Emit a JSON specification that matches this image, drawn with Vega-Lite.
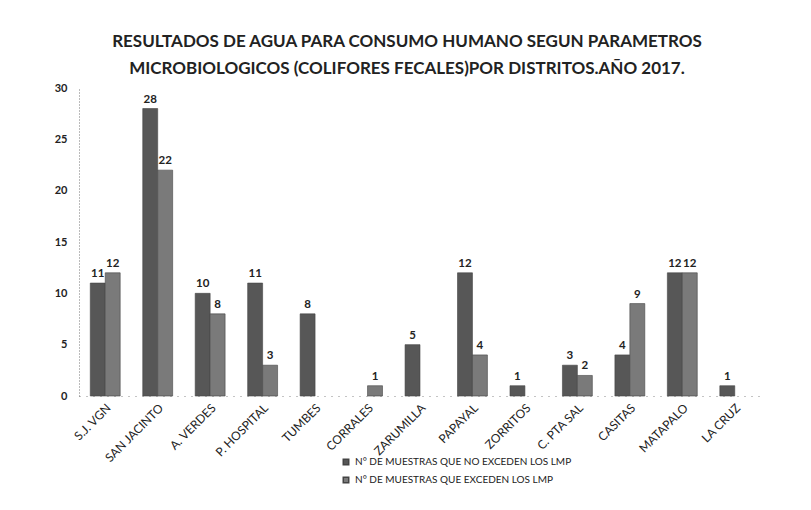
{
  "$schema": "https://vega.github.io/schema/vega-lite/v6.json",
  "autosize": "none",
  "width": 682,
  "height": 308,
  "padding": {"left": 79, "top": 88, "right": 50, "bottom": 114},
  "background": "white",
  "title": {
    "text": ["RESULTADOS DE AGUA PARA CONSUMO HUMANO SEGUN PARAMETROS", "MICROBIOLOGICOS (COLIFORES FECALES)POR DISTRITOS.AÑO 2017."],
    "font": "Lato",
    "fontSize": 17,
    "fontWeight": "bold",
    "color": "#222",
    "lineHeight": 27,
    "anchor": "middle",
    "dx": -13,
    "offset": 4
  },
  "data": {
    "values": [
      {"distrito": "S.J. VGN", "serie": "N° DE MUESTRAS QUE NO EXCEDEN LOS LMP", "valor": 11},
      {"distrito": "S.J. VGN", "serie": "N° DE MUESTRAS QUE EXCEDEN LOS LMP", "valor": 12},
      {"distrito": "SAN JACINTO", "serie": "N° DE MUESTRAS QUE NO EXCEDEN LOS LMP", "valor": 28},
      {"distrito": "SAN JACINTO", "serie": "N° DE MUESTRAS QUE EXCEDEN LOS LMP", "valor": 22},
      {"distrito": "A. VERDES", "serie": "N° DE MUESTRAS QUE NO EXCEDEN LOS LMP", "valor": 10},
      {"distrito": "A. VERDES", "serie": "N° DE MUESTRAS QUE EXCEDEN LOS LMP", "valor": 8},
      {"distrito": "P. HOSPITAL", "serie": "N° DE MUESTRAS QUE NO EXCEDEN LOS LMP", "valor": 11},
      {"distrito": "P. HOSPITAL", "serie": "N° DE MUESTRAS QUE EXCEDEN LOS LMP", "valor": 3},
      {"distrito": "TUMBES", "serie": "N° DE MUESTRAS QUE NO EXCEDEN LOS LMP", "valor": 8},
      {"distrito": "CORRALES", "serie": "N° DE MUESTRAS QUE EXCEDEN LOS LMP", "valor": 1},
      {"distrito": "ZARUMILLA", "serie": "N° DE MUESTRAS QUE NO EXCEDEN LOS LMP", "valor": 5},
      {"distrito": "PAPAYAL", "serie": "N° DE MUESTRAS QUE NO EXCEDEN LOS LMP", "valor": 12},
      {"distrito": "PAPAYAL", "serie": "N° DE MUESTRAS QUE EXCEDEN LOS LMP", "valor": 4},
      {"distrito": "ZORRITOS", "serie": "N° DE MUESTRAS QUE NO EXCEDEN LOS LMP", "valor": 1},
      {"distrito": "C. PTA SAL", "serie": "N° DE MUESTRAS QUE NO EXCEDEN LOS LMP", "valor": 3},
      {"distrito": "C. PTA SAL", "serie": "N° DE MUESTRAS QUE EXCEDEN LOS LMP", "valor": 2},
      {"distrito": "CASITAS", "serie": "N° DE MUESTRAS QUE NO EXCEDEN LOS LMP", "valor": 4},
      {"distrito": "CASITAS", "serie": "N° DE MUESTRAS QUE EXCEDEN LOS LMP", "valor": 9},
      {"distrito": "MATAPALO", "serie": "N° DE MUESTRAS QUE NO EXCEDEN LOS LMP", "valor": 12},
      {"distrito": "MATAPALO", "serie": "N° DE MUESTRAS QUE EXCEDEN LOS LMP", "valor": 12},
      {"distrito": "LA CRUZ", "serie": "N° DE MUESTRAS QUE NO EXCEDEN LOS LMP", "valor": 1}
    ]
  },
  "encoding": {
    "x": {
      "field": "distrito",
      "type": "nominal",
      "sort": null,
      "scale": {"domain": ["S.J. VGN", "SAN JACINTO", "A. VERDES", "P. HOSPITAL", "TUMBES", "CORRALES", "ZARUMILLA", "PAPAYAL", "ZORRITOS", "C. PTA SAL", "CASITAS", "MATAPALO", "LA CRUZ"], "paddingInner": 0.43, "paddingOuter": 0.215},
      "axis": {
        "title": null,
        "labelAngle": -45,
        "labelFont": "Lato",
        "labelFontSize": 12,
        "labelColor": "#222",
        "labelPadding": 6,
        "ticks": false,
        "domainColor": "#888",
        "domainDash": [1, 6]
      }
    },
    "xOffset": {
      "field": "serie",
      "type": "nominal",
      "scale": {"domain": ["N° DE MUESTRAS QUE NO EXCEDEN LOS LMP", "N° DE MUESTRAS QUE EXCEDEN LOS LMP"]}
    },
    "y": {
      "field": "valor",
      "type": "quantitative",
      "scale": {"domain": [0, 30]},
      "axis": {
        "title": null,
        "values": [0, 5, 10, 15, 20, 25, 30],
        "grid": false,
        "ticks": false,
        "labelFont": "Lato",
        "labelFontSize": 11,
        "labelFontWeight": "bold",
        "labelColor": "#222",
        "labelPadding": 12,
        "domainColor": "#777",
        "domainDash": [1, 2]
      }
    }
  },
  "layer": [
    {
      "mark": {"type": "bar", "stroke": "#444", "strokeWidth": 0.6},
      "encoding": {
        "color": {
          "field": "serie",
          "type": "nominal",
          "scale": {"domain": ["N° DE MUESTRAS QUE NO EXCEDEN LOS LMP", "N° DE MUESTRAS QUE EXCEDEN LOS LMP"], "range": ["#575757", "#7a7a7a"]},
          "legend": {
            "title": null,
            "orient": "none",
            "legendX": 262,
            "legendY": 369,
            "direction": "vertical",
            "symbolType": "square",
            "symbolSize": 30,
            "labelFont": "Lato",
            "labelFontSize": 10,
            "labelColor": "#222",
            "labelLimit": 400,
            "rowPadding": 6
          }
        }
      }
    },
    {
      "mark": {"type": "text", "baseline": "bottom", "dy": -4, "font": "Lato", "fontSize": 11.5, "fontWeight": "bold", "color": "#222"},
      "encoding": {"text": {"field": "valor", "type": "quantitative"}}
    }
  ],
  "config": {"view": {"stroke": null}}
}
